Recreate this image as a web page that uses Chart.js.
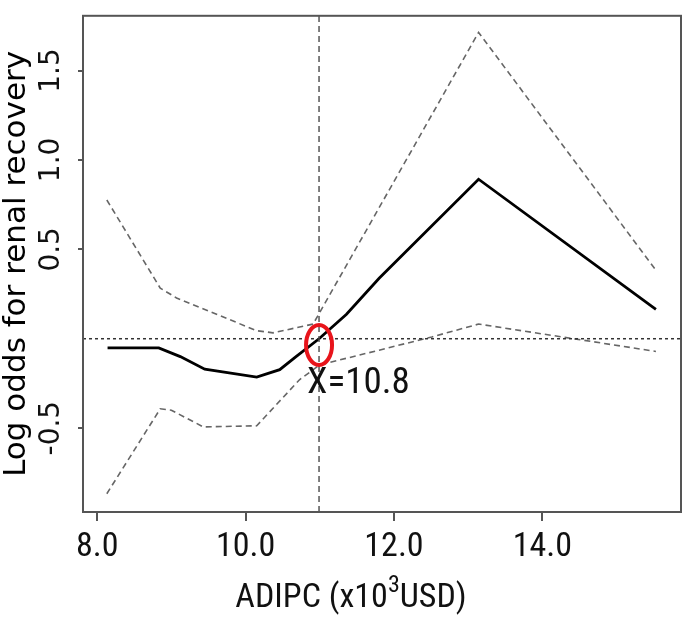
<!DOCTYPE html>
<html>
<head>
<meta charset="utf-8">
<script src="https://cdn.jsdelivr.net/npm/chart.js@4"></script>
<style>
  body { margin: 0; background: #fff; }
  #wrap { width: 685px; height: 621px; }
</style>
</head>
<body>
<div id="wrap"><canvas id="chart" width="685" height="621"></canvas></div>
<script>
// ADIPC (x10^3 USD) and log odds
const fitX = [8.14, 8.83, 9.12, 9.45, 10.15, 10.46, 10.68, 10.99, 11.36, 11.80, 13.14, 15.53];
const fitY = [-0.051, -0.051, -0.10, -0.170, -0.215, -0.173, -0.100, 0.0, 0.137, 0.338, 0.892, 0.164];

const upperX = [8.13, 8.85, 9.07, 10.15, 10.37, 10.91, 13.14, 15.53];
const upperY = [0.776, 0.283, 0.228, 0.045, 0.033, 0.082, 1.713, 0.383];

const lowerX = [8.13, 8.85, 9.0, 9.43, 10.15, 10.73, 11.0, 11.80, 12.51, 13.14, 15.53];
const lowerY = [-0.867, -0.392, -0.40, -0.493, -0.487, -0.228, -0.146, -0.064, 0.01, 0.082, -0.071];

const xTicks = [8, 10, 12, 14];
const yTicks = [-0.5, 0.5, 1.0, 1.5];
const xMin = 7.809, xMax = 15.868;
const yMin = -0.969, yMax = 1.806;

const cutX = 10.99;       // vertical reference line
const markY = -0.035;     // centre of the red ring
const markLabel = "X=10.8";

const narrow = "'Liberation Sans Narrow', 'Roboto Condensed', 'Liberation Sans'";

function pts(xs, ys) {
  return xs.map((x, i) => ({ x: x, y: ys[i] }));
}

const frame = {
  id: "frame",
  afterDraw(chart) {
    const c = chart.ctx, a = chart.chartArea;
    const sx = chart.scales.x, sy = chart.scales.y;
    c.save();
    c.strokeStyle = "#555";
    c.lineWidth = 2;
    c.strokeRect(a.left, a.top, a.right - a.left, a.bottom - a.top);

    // red ring at the crossing
    const px = sx.getPixelForValue(cutX), py = sy.getPixelForValue(markY);
    c.strokeStyle = "#e8141b";
    c.lineWidth = 4;
    c.beginPath();
    c.ellipse(px, py, 13, 20, 0, 0, Math.PI * 2);
    c.stroke();

    c.fillStyle = "#111";
    c.textBaseline = "alphabetic";
    c.textAlign = "left";
    c.font = "37px " + narrow;
    c.fillText(markLabel, px - 12, py + 48);

    // x axis title with a real superscript
    const parts = [["ADIPC (x10", 34, 0], ["3", 24, -15], ["USD)", 34, 0]];
    let w = 0;
    parts.forEach(p => { c.font = p[1] + "px " + narrow; w += c.measureText(p[0]).width; });
    let tx = 351 - w / 2;
    const base = 607;
    parts.forEach(p => {
      c.font = p[1] + "px " + narrow;
      c.fillText(p[0], tx, base + p[2]);
      tx += c.measureText(p[0]).width;
    });
    c.restore();
  }
};

new Chart(document.getElementById("chart"), {
  type: "scatter",
  data: {
    datasets: [
      {
        data: pts([xMin, xMax], [0, 0]),
        showLine: true, borderColor: "#333", borderWidth: 1.5, borderDash: [3, 3],
        pointRadius: 0
      },
      {
        data: pts([cutX, cutX], [yMin, yMax]),
        showLine: true, borderColor: "#555", borderWidth: 1.5, borderDash: [6, 4],
        pointRadius: 0
      },
      {
        data: pts(upperX, upperY),
        showLine: true, borderColor: "#666", borderWidth: 1.6, borderDash: [6, 4],
        pointRadius: 0
      },
      {
        data: pts(lowerX, lowerY),
        showLine: true, borderColor: "#666", borderWidth: 1.6, borderDash: [6, 4],
        pointRadius: 0
      },
      {
        data: pts(fitX, fitY),
        showLine: true, borderColor: "#000", borderWidth: 2.8,
        pointRadius: 0
      }
    ]
  },
  options: {
    responsive: false,
    animation: false,
    layout: { padding: { top: 5, right: 4, left: 0, bottom: 0 } },
    plugins: { legend: { display: false }, tooltip: { enabled: false } },
    scales: {
      x: {
        type: "linear", min: xMin, max: xMax,
        afterBuildTicks: s => { s.ticks = xTicks.map(v => ({ value: v })); },
        afterFit: s => { s.height = 109; },
        border: { display: false },
        grid: { drawOnChartArea: false, drawTicks: true, tickLength: 9, color: "#555", lineWidth: 2 },
        ticks: {
          color: "#111", padding: 6,
          font: { family: narrow, size: 34 },
          callback: v => v.toFixed(1)
        }
      },
      y: {
        type: "linear", min: yMin, max: yMax,
        afterBuildTicks: s => { s.ticks = yTicks.map(v => ({ value: v })); },
        afterFit: s => { s.width = 83; },
        border: { display: false },
        grid: { drawOnChartArea: false, drawTicks: true, tickLength: 5, color: "#555", lineWidth: 2 },
        ticks: {
          color: "#111", padding: -1, minRotation: 90, maxRotation: 90, crossAlign: "center",
          font: { family: "'DejaVu Sans'", size: 28 },
          callback: v => v.toFixed(1)
        },
        title: {
          display: true, text: "Log odds for renal recovery", color: "#000",
          padding: { top: -2, bottom: 0 },
          font: { family: "'DejaVu Sans'", size: 31 }
        }
      }
    }
  },
  plugins: [frame]
});
</script>
</body>
</html>
